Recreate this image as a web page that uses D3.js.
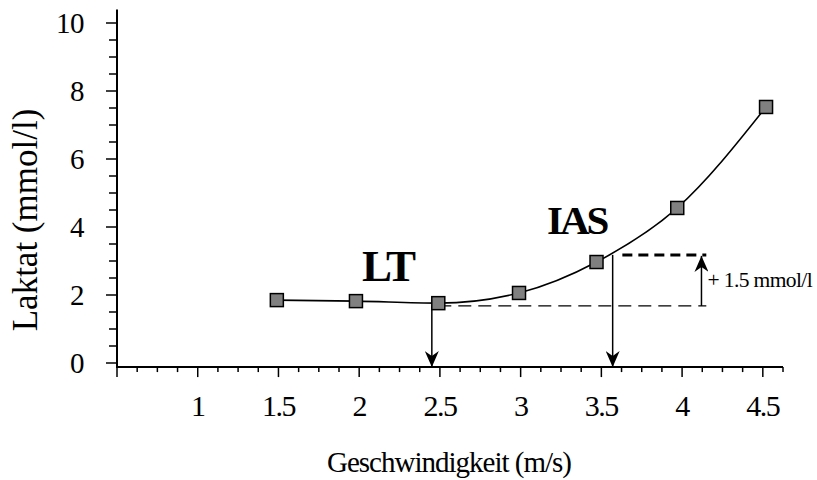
<!DOCTYPE html>
<html>
<head>
<meta charset="utf-8">
<script src="https://cdn.jsdelivr.net/npm/d3@7"></script>
<style>
  html, body { margin: 0; padding: 0; background: #fff; }
  svg { display: block; font-family: "Liberation Serif", "Times New Roman", serif; }
</style>
</head>
<body>
<svg id="chart" width="817" height="480"></svg>
<script>
// Stufentest: Laktat gegen Laufgeschwindigkeit
const speeds  = [1.49, 1.98, 2.49, 2.99, 3.47, 3.97, 4.52];   // m/s
const lactate = [1.85, 1.82, 1.76, 2.06, 2.97, 4.56, 7.53];   // mmol/l

const xTickLabels = [1, 1.5, 2, 2.5, 3, 3.5, 4, 4.5];
const yTickLabels = [0, 2, 4, 6, 8, 10];

// Schwellen
const ltSpeed = 2.45;       // Laktatschwelle (LT)
const ltLactate = 1.68;     // Basislaktat an der LT
const deltaLactate = 1.5;   // + 1.5 mmol/l
const iasSpeed = 3.57;      // individuelle anaerobe Schwelle (IAS)
const markerEnd = 4.12;     // Ende der Hilfslinien

const svg = d3.select("#chart");

const x = d3.scaleLinear().domain([0.5, 4.625]).range([117, 783]);
const y = d3.scaleLinear().domain([0, 10]).range([363, 23]);
const axisY = y(-0.12);

// Pfeilspitzen
const defs = svg.append("defs");
defs.append("marker")
  .attr("id", "head")
  .attr("viewBox", "0 0 16 14")
  .attr("refX", 16).attr("refY", 7)
  .attr("markerWidth", 16).attr("markerHeight", 14)
  .attr("markerUnits", "userSpaceOnUse")
  .attr("orient", "auto")
  .append("path")
  .attr("d", "M0,0 L16,7 L0,14 L5,7 Z")
  .attr("fill", "#000");

// Achsen
const g = svg.append("g");
g.append("line")
  .attr("x1", x(0.5)).attr("x2", x(0.5))
  .attr("y1", y(10.4)).attr("y2", axisY + 1)
  .attr("stroke", "#000").attr("stroke-width", 2);
g.append("line")
  .attr("x1", x(0.5) - 1).attr("x2", x(4.625))
  .attr("y1", axisY).attr("y2", axisY)
  .attr("stroke", "#000").attr("stroke-width", 2);

// y-Ticks alle 0.5
const yMinor = d3.range(0, 10.01, 0.5);
g.selectAll(".yt").data(yMinor).join("line")
  .attr("x1", d => x(0.5) - (d % 2 === 0 ? 11 : 8))
  .attr("x2", x(0.5))
  .attr("y1", d => y(d)).attr("y2", d => y(d))
  .attr("stroke", "#000").attr("stroke-width", 1.5);

g.selectAll(".yl").data(yTickLabels).join("text")
  .attr("x", 84).attr("y", d => y(d) + 10)
  .attr("text-anchor", "end")
  .attr("font-size", 29)
  .attr("letter-spacing", -0.5)
  .text(d => d);

// x-Ticks alle 0.125
const xMinor = d3.range(0.5, 4.626, 0.125);
g.selectAll(".xt").data(xMinor).join("line")
  .attr("x1", d => x(d)).attr("x2", d => x(d))
  .attr("y1", axisY)
  .attr("y2", d => axisY + (Math.abs(d * 2 - Math.round(d * 2)) < 1e-6 ? 10 : 5))
  .attr("stroke", "#000").attr("stroke-width", 1.5);

g.selectAll(".xl").data(xTickLabels).join("text")
  .attr("x", d => x(d)).attr("y", 416)
  .attr("text-anchor", "middle")
  .attr("font-size", 30)
  .attr("letter-spacing", -1.5)
  .text(d => d);

// Achsentitel
svg.append("text")
  .attr("x", 449).attr("y", 472)
  .attr("text-anchor", "middle")
  .attr("font-size", 29)
  .attr("letter-spacing", -1)
  .text("Geschwindigkeit (m/s)");

svg.append("text")
  .attr("transform", "translate(37,220) rotate(-90)")
  .attr("text-anchor", "middle")
  .attr("font-size", 35)
  .text("Laktat (mmol/l)");

// Laktatkurve
const pts = speeds.map((s, i) => [s, lactate[i]]);
svg.append("path")
  .datum(pts)
  .attr("d", d3.line().x(d => x(d[0])).y(d => y(d[1])).curve(d3.curveMonotoneX))
  .attr("fill", "none").attr("stroke", "#000").attr("stroke-width", 1.6);

// Basislinie (gestrichelt) und IAS-Niveau (fett gestrichelt)
svg.append("line")
  .attr("x1", x(ltSpeed + 0.04)).attr("x2", x(markerEnd + 0.03))
  .attr("y1", y(ltLactate)).attr("y2", y(ltLactate))
  .attr("stroke", "#000").attr("stroke-width", 1.3)
  .attr("stroke-dasharray", "13,7");

svg.append("line")
  .attr("x1", x(iasSpeed + 0.06)).attr("x2", x(markerEnd + 0.03))
  .attr("y1", y(ltLactate + deltaLactate)).attr("y2", y(ltLactate + deltaLactate))
  .attr("stroke", "#000").attr("stroke-width", 3)
  .attr("stroke-dasharray", "10,6");

// Pfeile zur Geschwindigkeitsachse
svg.append("line")
  .attr("x1", x(ltSpeed)).attr("x2", x(ltSpeed))
  .attr("y1", y(ltLactate)).attr("y2", axisY)
  .attr("stroke", "#000").attr("stroke-width", 1.5)
  .attr("marker-end", "url(#head)");

svg.append("line")
  .attr("x1", x(iasSpeed)).attr("x2", x(iasSpeed))
  .attr("y1", y(ltLactate + deltaLactate)).attr("y2", axisY)
  .attr("stroke", "#000").attr("stroke-width", 1.5)
  .attr("marker-end", "url(#head)");

// + 1.5 mmol/l Pfeil
svg.append("line")
  .attr("x1", x(markerEnd)).attr("x2", x(markerEnd))
  .attr("y1", y(ltLactate)).attr("y2", y(ltLactate + deltaLactate) + 1)
  .attr("stroke", "#000").attr("stroke-width", 1.5)
  .attr("marker-end", "url(#head)");

svg.append("text")
  .attr("x", x(markerEnd) + 6).attr("y", y(ltLactate + deltaLactate / 2) + 7)
  .attr("font-size", 21.5)
  .attr("letter-spacing", -0.6)
  .text("+ 1.5 mmol/l");

// Messpunkte
svg.selectAll(".pt").data(pts).join("rect")
  .attr("x", d => x(d[0]) - 6.5).attr("y", d => y(d[1]) - 6.5)
  .attr("width", 13).attr("height", 13)
  .attr("fill", "#808080").attr("stroke", "#000").attr("stroke-width", 1.5);

// Beschriftungen
svg.append("text")
  .attr("x", 362).attr("y", 281)
  .attr("font-size", 45).attr("font-weight", "bold")
  .attr("letter-spacing", -2)
  .text("LT");

svg.append("text")
  .attr("x", 547).attr("y", 234)
  .attr("font-size", 41).attr("font-weight", "bold")
  .attr("letter-spacing", -3)
  .text("IAS");
</script>
</body>
</html>
